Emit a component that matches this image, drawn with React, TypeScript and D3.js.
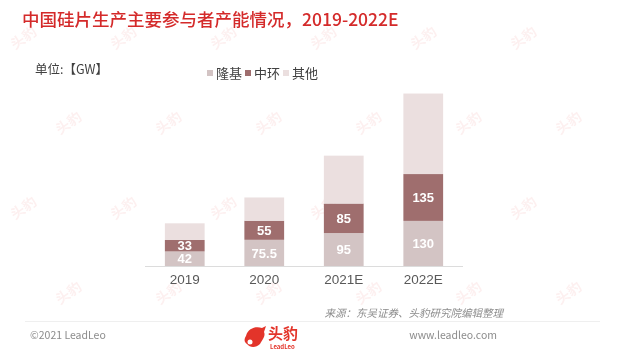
import React, { useEffect, useRef } from 'react';
import * as d3 from 'd3';

// data (GW)
const years = ['2019', '2020', '2021E', '2022E'];
const longi = [42, 75.5, 95, 130];
const zhonghuan = [33, 55, 85, 135];
const others = [48, 67, 138, 232];
const seriesNames = ['隆基', '中环', '其他'];

const W = 623;
const H = 351;

const App = () => {
  const ref = useRef<SVGSVGElement>(null);

  useEffect(() => {
    const svg = d3.select(ref.current);
    svg.selectAll('*').remove();
    const font = '"Noto Sans CJK SC", "Noto Sans", sans-serif';
    const latin = '"Liberation Sans", Arial, sans-serif';

    const colors = ['#d3c4c4', '#9f6e6e', '#ebdfdf'];

    // faint watermark tiles
    const wm = svg.append('g').attr('opacity', 0.07);
    for (let r = 0; r < 4; r++) {
      for (let c = 0; c < 7; c++) {
        const wx = 15 + c * 100 + (r % 2) * 45;
        const wy = 50 + r * 85;
        if (wx > 585) continue;
        wm.append('text')
          .attr('transform', `translate(${wx},${wy}) rotate(-35)`)
          .attr('font-family', font)
          .attr('font-size', 14)
          .attr('font-weight', 'bold')
          .attr('fill', '#e02020')
          .text('头豹');
      }
    }

    // title
    svg.append('text')
      .attr('x', 22)
      .attr('y', 26)
      .attr('font-family', font)
      .attr('font-size', 17.5)
      .attr('font-weight', 500)
      .attr('fill', '#d42a2a')
      .text('中国硅片生产主要参与者产能情况，2019-2022E');

    svg.append('text')
      .attr('x', 35)
      .attr('y', 74)
      .attr('font-family', font)
      .attr('font-size', 12.5)
      .attr('fill', '#404040')
      .text('单位:【GW】');

    // legend
    const legendX = [207, 245, 283];
    seriesNames.forEach((name, i) => {
      svg.append('rect')
        .attr('x', legendX[i])
        .attr('y', 70)
        .attr('width', 6)
        .attr('height', 6)
        .attr('fill', colors[i]);
      svg.append('text')
        .attr('x', legendX[i] + 9)
        .attr('y', 78)
        .attr('font-family', font)
        .attr('font-size', 13)
        .attr('fill', '#404040')
        .text(name);
    });

    // scales
    const x = d3.scaleBand()
      .domain(years)
      .range([145, 463])
      .paddingInner(0.5)
      .paddingOuter(0.25);

    const y = d3.scaleLinear()
      .domain([0, 500])
      .range([266, 92.5]);

    const rows = years.map((yr, i) => ({ year: yr, values: [longi[i], zhonghuan[i], others[i]] }));

    rows.forEach(row => {
      let acc = 0;
      row.values.forEach((v, si) => {
        const y0 = y(acc);
        const y1 = y(acc + v);
        svg.append('rect')
          .attr('x', x(row.year)!)
          .attr('y', y1)
          .attr('width', x.bandwidth())
          .attr('height', y0 - y1)
          .attr('fill', colors[si]);
        if (si < 2) {
          svg.append('text')
            .attr('x', x(row.year)! + x.bandwidth() / 2)
            .attr('y', (y0 + y1) / 2)
            .attr('dy', '0.36em')
            .attr('text-anchor', 'middle')
            .attr('font-family', latin)
            .attr('font-size', 13)
            .attr('font-weight', 'bold')
            .attr('fill', '#ffffff')
            .text(String(v));
        }
        acc += v;
      });
    });

    // baseline
    svg.append('line')
      .attr('x1', 145)
      .attr('x2', 463)
      .attr('y1', y(0) + 0.5)
      .attr('y2', y(0) + 0.5)
      .attr('stroke', '#dcdcdc');

    // category labels
    svg.append('g')
      .selectAll('text')
      .data(years)
      .enter()
      .append('text')
      .attr('x', d => x(d)! + x.bandwidth() / 2)
      .attr('y', 284)
      .attr('text-anchor', 'middle')
      .attr('font-family', latin)
      .attr('font-size', 13.5)
      .attr('fill', '#595959')
      .text(d => d);

    // source
    svg.append('text')
      .attr('x', 503)
      .attr('y', 317)
      .attr('text-anchor', 'end')
      .attr('font-family', font)
      .attr('font-size', 10.5)
      .attr('font-style', 'italic')
      .attr('fill', '#8c8c8c')
      .text('来源：东吴证券、头豹研究院编辑整理');

    // footer
    svg.append('line')
      .attr('x1', 25)
      .attr('x2', 600)
      .attr('y1', 321.5)
      .attr('y2', 321.5)
      .attr('stroke', '#efefef');

    svg.append('text')
      .attr('x', 30)
      .attr('y', 339)
      .attr('font-family', font)
      .attr('font-size', 10.5)
      .attr('fill', '#8c8c8c')
      .text('©2021 LeadLeo');

    svg.append('text')
      .attr('x', 497)
      .attr('y', 339)
      .attr('text-anchor', 'end')
      .attr('font-family', font)
      .attr('font-size', 10.5)
      .attr('fill', '#8c8c8c')
      .text('www.leadleo.com');

    // logo
    const logo = svg.append('g').attr('transform', 'translate(244,324)');
    logo.append('path')
      .attr('d', 'M2,12 C4,4 12,2 18,4 L22,2 L20,8 C22,12 18,16 16,20 C12,24 6,24 3,20 C0,18 0,15 2,12 Z')
      .attr('fill', '#e3342a');
    logo.append('circle').attr('cx', 6).attr('cy', 18).attr('r', 2.5).attr('fill', '#fff');
    logo.append('text')
      .attr('x', 24)
      .attr('y', 15)
      .attr('font-family', font)
      .attr('font-size', 15)
      .attr('font-weight', 'bold')
      .attr('fill', '#e3342a')
      .text('头豹');
    logo.append('text')
      .attr('x', 26)
      .attr('y', 25)
      .attr('font-family', font)
      .attr('font-size', 6)
      .attr('font-weight', 'bold')
      .attr('fill', '#e3342a')
      .text('LeadLeo');
  }, []);

  return (
    <div style={{ position: 'absolute', left: 0, top: 0 }}>
      <svg ref={ref} width={W} height={H} style={{ display: 'block', background: '#fff' }} />
    </div>
  );
};

export default App;
